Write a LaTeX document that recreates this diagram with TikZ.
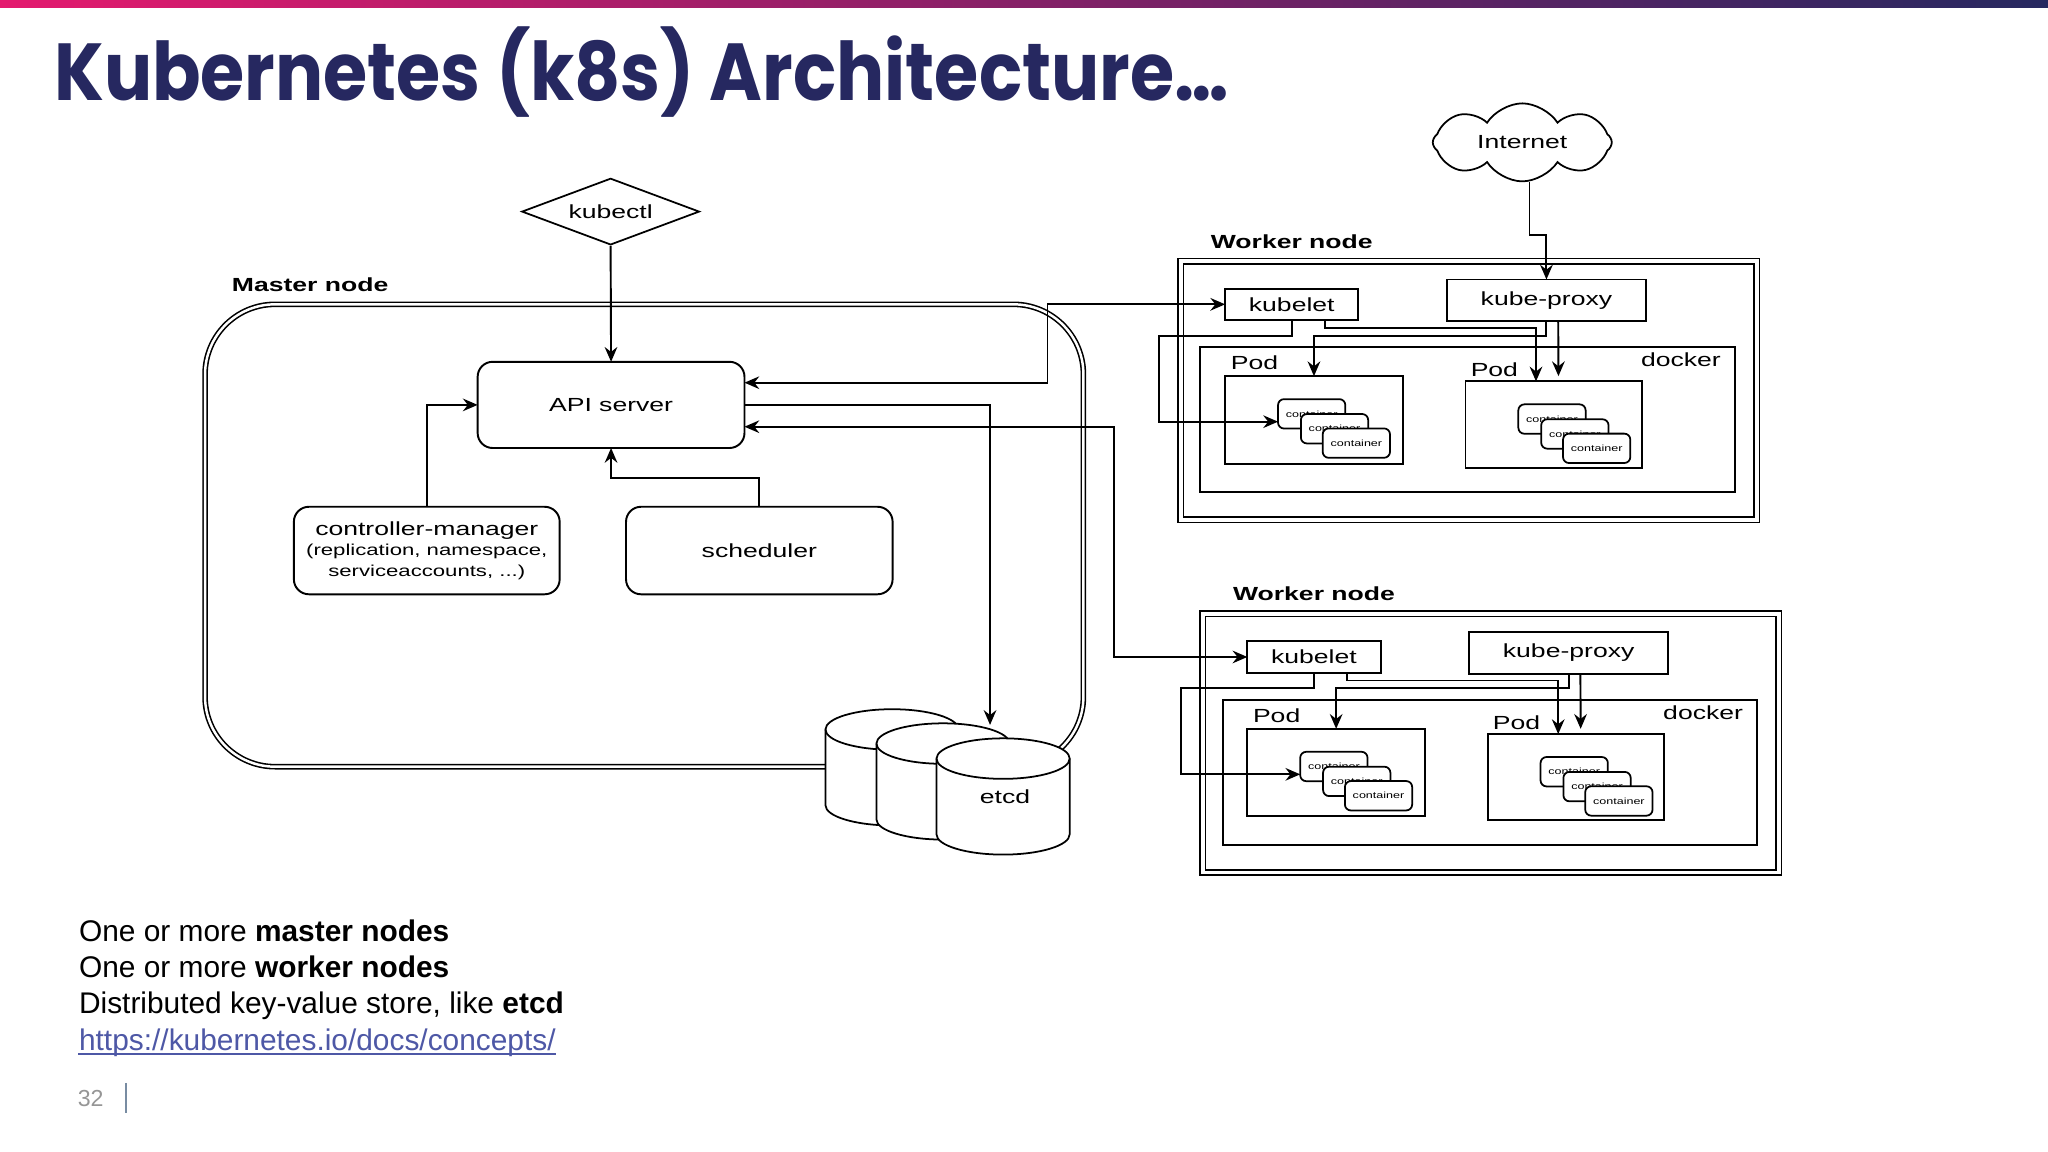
\documentclass[tikz,border=0pt]{standalone}
\usepackage{fontspec}
\setmainfont{Liberation Sans}
\newfontfamily\diagfont{Liberation Sans}[FakeStretch=1.4]
\newfontfamily\titlefont{Poppins}[FakeStretch=0.885]
\usetikzlibrary{positioning,fit,calc,shapes.geometric,shapes.symbols,arrows.meta}
\definecolor{titlenavy}{RGB}{38,40,96}
\definecolor{barpink}{RGB}{228,26,110}
\definecolor{barpurple}{RGB}{138,32,104}
\definecolor{linkblue}{RGB}{78,88,166}
\definecolor{pagegray}{RGB}{150,150,150}
\definecolor{bargray}{RGB}{120,140,162}
\tikzset{
  box/.style={draw, line width=0.55pt, inner sep=0pt, outer sep=0pt},
  rbox/.style={box, rounded corners=0.15cm},
  ctr/.style={draw, fill=white, line width=0.5pt, rounded corners=0.06cm, inner sep=0pt, outer sep=0pt,
    minimum width=0.673cm, minimum height=0.294cm, font=\diagfont\fontsize{2.55}{3}\selectfont},
  dbl/.style={draw, double, double distance=1.1pt, line width=0.45pt, inner sep=0pt},
  lbl/.style={inner sep=0pt, font=\diagfont\fontsize{5.4}{6.5}\selectfont},
  blbl/.style={inner sep=0pt, font=\diagfont\bfseries\fontsize{5.4}{6.5}\selectfont},
  conn/.style={line width=0.55pt},
  every label/.style={inner sep=0pt, font=\diagfont\fontsize{5.4}{6.5}\selectfont},
}
\begin{document}
\begin{tikzpicture}[x=0.013061cm, y=-0.013061cm, >={Stealth[length=4.2pt,width=3.6pt,inset=1.4pt]}]
\useasboundingbox (0,0) rectangle (1568,882);
% slide header
\shade[left color=barpink, middle color=barpurple, right color=titlenavy] (0,0) rectangle (1568,6);
\node[anchor=base west, inner sep=0pt, text=titlenavy, font=\titlefont\bfseries\fontsize{23}{27}\selectfont] (title) at (41,77) {Kubernetes (k8s) Architecture…};

% master node
\node[blbl, anchor=base west] (masterlbl) at (177,223.3) {Master node};
\node[draw, double, double distance=0.7pt, line width=0.45pt, inner sep=0pt, rounded corners=0.7cm, fit={(157,233) (829.5,587)}] (master) {};
\node[draw, diamond, aspect=2.67, line width=0.5pt, inner sep=0pt, minimum width=1.776cm, minimum height=0.666cm, font=\diagfont\fontsize{5.4}{6.5}\selectfont] (kubectl) at (467.5,162) {kubectl};
\node[rbox, fit={(365.7,277) (570,343)}, label=center:API server] (api) {};
\node[rbox, fit={(225,388) (428.5,455)}, label={[align=center, font=\diagfont\fontsize{4.5}{5.9}\selectfont]center:{{\fontsize{5.4}{5.9}\selectfont controller-manager}\\(replication, namespace,\\serviceaccounts, ...)}}] (ctrl) {};
\node[rbox, fit={(479.3,388) (683.4,455)}, label=center:scheduler] (sched) {};

% etcd
\draw[fill=white, line width=0.5pt] (632,558.5) -- (632,616.5) arc[start angle=180, end angle=360, x radius=0.666cm, y radius=0.2025cm] -- (734,558.5) arc[start angle=0, end angle=180, x radius=0.666cm, y radius=0.2025cm] -- cycle;
\draw[line width=0.5pt] (632,558.5) arc[start angle=180, end angle=360, x radius=0.666cm, y radius=0.2025cm];
\draw[fill=white, line width=0.5pt] (671,569.3) -- (671,627.3) arc[start angle=180, end angle=360, x radius=0.666cm, y radius=0.2025cm] -- (773,569.3) arc[start angle=0, end angle=180, x radius=0.666cm, y radius=0.2025cm] -- cycle;
\draw[line width=0.5pt] (671,569.3) arc[start angle=180, end angle=360, x radius=0.666cm, y radius=0.2025cm];
\draw[fill=white, line width=0.5pt] (717,580.8) -- (717,638.8) arc[start angle=180, end angle=360, x radius=0.666cm, y radius=0.2025cm] -- (819,580.8) arc[start angle=0, end angle=180, x radius=0.666cm, y radius=0.2025cm] -- cycle;
\draw[line width=0.5pt] (717,580.8) arc[start angle=180, end angle=360, x radius=0.666cm, y radius=0.2025cm];
\node[lbl] (etcd) at (769.5,610) {etcd};
\coordinate (etcdtop) at (758,555);

% internet
\node[draw, cloud, cloud puffs=8, cloud puff arc=115, aspect=2.3, line width=0.5pt, inner sep=0pt, minimum width=1.79cm, minimum height=0.78cm, font=\diagfont\fontsize{5.4}{6.5}\selectfont] (internet) at (1165.5,109) {Internet};

% worker node 1
\node[blbl, anchor=base west] (worker1lbl) at (926.5,190) {Worker node};
\node[dbl, fit={(904,200) (1345,398)}] (worker1) {};
\node[box, fit={(919,266) (1328,377)}] (docker1) {};
\node[lbl, anchor=base east] (docker1lbl) at (1318,280.7) {docker};
\node[box, fit={(938,288) (1074,355)}] (pod11) {};
\node[box, fit={(1122,292) (1257,358)}] (pod12) {};
\node[lbl, anchor=base west] (pod11lbl) at (941.8,283) {Pod};
\node[lbl, anchor=base west] (pod12lbl) at (1125.5,288.4) {Pod};
\node[box, fit={(938,221) (1040,245)}, label=center:kubelet] (kubelet1) {};
\node[box, fit={(1108,214) (1260,246)}, label=center:kube-proxy] (proxy1) {};
\node[ctr] (c11a) at (1004.25,316.85) {container};
\node[ctr] (c11b) at (1021.75,328.25) {container};
\node[ctr] (c11c) at (1038.45,339.25) {container};
\node[ctr] (c12a) at (1188.25,320.85) {container};
\node[ctr] (c12b) at (1205.75,332.25) {container};
\node[ctr] (c12c) at (1222.45,343.25) {container};

% worker node 2
\node[blbl, anchor=base west] (worker2lbl) at (943.5,460) {Worker node};
\node[dbl, fit={(921,470) (1362,668)}] (worker2) {};
\node[box, fit={(936,536) (1345,647)}] (docker2) {};
\node[lbl, anchor=base east] (docker2lbl) at (1335,550.7) {docker};
\node[box, fit={(955,558) (1091,625)}] (pod21) {};
\node[box, fit={(1139,562) (1274,628)}] (pod22) {};
\node[lbl, anchor=base west] (pod21lbl) at (958.8,553) {Pod};
\node[lbl, anchor=base west] (pod22lbl) at (1142.5,558.4) {Pod};
\node[box, fit={(955,491) (1057,515)}, label=center:kubelet] (kubelet2) {};
\node[box, fit={(1125,484) (1277,516)}, label=center:kube-proxy] (proxy2) {};
\node[ctr] (c21a) at (1021.25,586.85) {container};
\node[ctr] (c21b) at (1038.75,598.25) {container};
\node[ctr] (c21c) at (1055.45,609.25) {container};
\node[ctr] (c22a) at (1205.25,590.85) {container};
\node[ctr] (c22b) at (1222.75,602.25) {container};
\node[ctr] (c22c) at (1239.45,613.25) {container};

% bend points
\coordinate (b1) at (802,0);
\coordinate (b2) at (853,0);
\coordinate (b3) at (0,366);
\coordinate (w1a) at (887,257);
\coordinate (w1b) at (1176,251);
\coordinate (w1c) at (1184,257);
\coordinate (w2a) at (904,527);
\coordinate (w2b) at (1193,521);
\coordinate (w2c) at (1201,527);

% connectors in the master
\draw[conn, ->] (kubectl.south) -- (api.north);
\draw[conn, ->] (ctrl.north) |- (api.west);
\draw[conn, ->] (sched.north) |- (b3 -| api.south) -- (api.south);
\draw[conn, ->] (api.east) -| (etcdtop);
\draw[conn, <->] ($(api.east)+(0,-17)$) -| (b1 |- kubelet1.west) -- (kubelet1.west);
\draw[conn, <->] ($(api.east)+(0,16.7)$) -| (b2 |- kubelet2.west) -- (kubelet2.west);
\draw[conn, ->] ($(internet.south)+(5.5,0)$) -- ++(0,40.5) -| (proxy1.north);

% connectors in the workers
\draw[conn, ->] (kubelet1.south) |- (w1a) |- ($(c11a.west)+(0,6)$);
\draw[conn, ->] ($(kubelet1.south)+(25.5,0)$) |- (w1b) -- (w1b |- pod12.north);
\draw[conn, ->] (proxy1.south) -- (w1c) -| (pod11.north);
\draw[conn, ->] ($(proxy1.south)+(9,0)$) -- ($(pod12.north)+(3.7,-4)$);
\draw[conn, ->] (kubelet2.south) |- (w2a) |- ($(c21a.west)+(0,6)$);
\draw[conn, ->] ($(kubelet2.south)+(25.5,0)$) |- (w2b) -- (w2b |- pod22.north);
\draw[conn, ->] (proxy2.south) -- (w2c) -| (pod21.north);
\draw[conn, ->] ($(proxy2.south)+(9,0)$) -- ($(pod22.north)+(3.7,-4)$);

% slide text
\node[anchor=base west, inner sep=0pt, font=\fontsize{8.5}{10}\selectfont] (line1) at (60,721) {One or more \textbf{master nodes}};
\node[anchor=base west, inner sep=0pt, font=\fontsize{8.5}{10}\selectfont] (line2) at (60,748.3) {One or more \textbf{worker nodes}};
\node[anchor=base west, inner sep=0pt, font=\fontsize{8.5}{10}\selectfont] (line3) at (60,776) {Distributed key-value store, like \textbf{etcd}};
\node[anchor=base west, inner sep=0pt, text=linkblue, font=\fontsize{8.5}{10}\selectfont] (link) at (60,804) {https://kubernetes.io/docs/concepts/};
\draw[linkblue, line width=0.4pt] ($(link.base west)+(0,3)$) -- ($(link.base east)+(0,3)$);
\node[anchor=base west, inner sep=0pt, text=pagegray, font=\fontsize{6.6}{8}\selectfont] (pagenum) at (59,847.3) {32};
\draw[bargray, line width=0.6pt] (96.5,829) -- (96.5,852);
\end{tikzpicture}
\end{document}
